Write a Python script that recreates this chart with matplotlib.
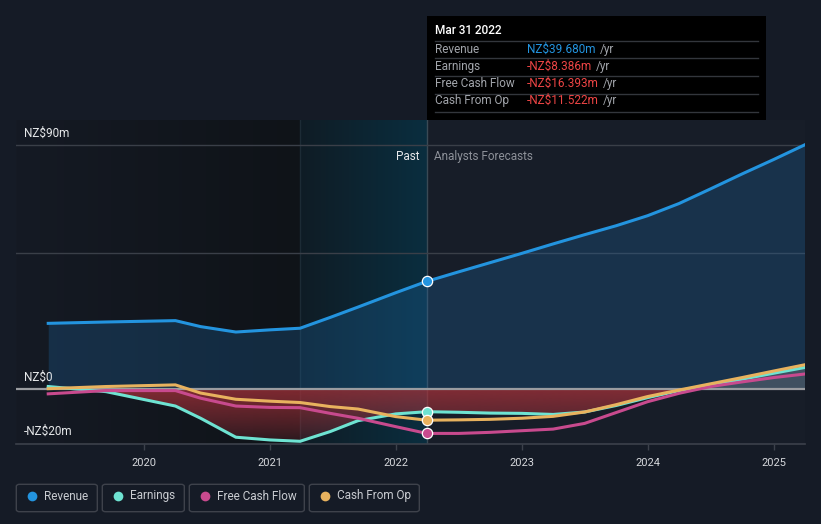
import numpy as np
import matplotlib.pyplot as plt
from matplotlib.patches import FancyBboxPatch
from matplotlib.colors import to_rgb

plt.rcParams['font.family'] = ['Roboto', 'DejaVu Sans']

# data (NZ$m), dates as decimal years
dates = [2019.24, 2019.70, 2020.25, 2020.45, 2020.73, 2021.0, 2021.24, 2021.48, 2021.70, 2022.0, 2022.246,
         2022.5, 2022.75, 2023.0, 2023.25, 2023.5, 2023.75, 2024.0, 2024.25, 2024.5, 2024.75, 2025.0, 2025.246]
revenue = [24.2, 24.7, 25.2, 23.0, 21.0, 21.8, 22.4, 26.4, 30.2, 35.5, 39.68,
           43.2, 46.6, 50.0, 53.5, 56.9, 60.2, 63.9, 68.4, 73.8, 79.3, 84.6, 90.0]
earnings = [0.9, -1.0, -6.3, -10.8, -17.8, -18.8, -19.3, -15.7, -11.7, -9.2, -8.386,
            -8.6, -8.9, -9.0, -9.4, -8.5, -6.1, -3.2, -0.6, 1.5, 3.6, 5.8, 7.9]
fcf = [-1.8, -0.6, -0.6, -3.4, -6.3, -6.8, -6.9, -9.0, -10.8, -13.9, -16.393,
       -16.4, -16.0, -15.4, -14.8, -12.7, -8.7, -4.7, -1.6, 0.9, 2.6, 4.2, 5.5]
cfo = [0.1, 0.9, 1.5, -1.5, -3.8, -4.5, -5.0, -6.5, -7.4, -10.2, -11.522,
       -11.4, -11.2, -10.8, -10.1, -8.5, -5.8, -2.8, -0.4, 1.9, 4.2, 6.6, 8.9]

years = [2020, 2021, 2022, 2023, 2024, 2025]
y_ticks = [90, 0, -20]
y_tick_labels = ['NZ$90m', 'NZ$0', '-NZ$20m']
names = ['Revenue', 'Earnings', 'Free Cash Flow', 'Cash From Op']
tip_date = 'Mar 31 2022'
tip_values = ['NZ$39.680m', '-NZ$8.386m', '-NZ$16.393m', '-NZ$11.522m']
now = 2022.246
past_start = 2021.24

colors = ['#2394df', '#6ee3d2', '#c84a8e', '#e8b25e']
bg = '#151b26'
W, H = 821, 524

fig = plt.figure(figsize=(W / 100, H / 100), dpi=100, facecolor=bg)
x0, x1 = 2018.984, 2025.25
y0, y1 = -20.3, 99.2
ax = fig.add_axes([16 / W, (H - 444) / H, (805 - 16) / W, (444 - 120) / H])
ax.set_facecolor('#171d28')
ax.set_xlim(x0, x1)
ax.set_ylim(y0, y1)


def hgrad(c_left, c_right, xa, xb, z, alpha=1.0):
    a = np.array(to_rgb(c_left))
    b = np.array(to_rgb(c_right))
    t = np.linspace(0, 1, 256)[None, :, None]
    img = a + (b - a) * t
    img = np.concatenate([img, np.full((1, 256, 1), alpha)], axis=2)
    return ax.imshow(img, extent=[xa, xb, y0, y1], aspect='auto', zorder=z, interpolation='bilinear')


# background zones
hgrad('#151a24', '#0f1318', x0, past_start, 0)
hgrad('#0f1c25', '#0a2e3f', past_start, now, 0)
ax.axvline(past_start, color='#1c2b35', lw=1, zorder=0.5)
ax.axvline(now, color='#3a4a55', lw=1, zorder=0.5)

# revenue area
ax.fill_between(dates, revenue, 0, color='#1e6aa8', alpha=0.28, lw=0, zorder=1)
# earnings area (red below 0, grey above)
e = np.array(earnings)
neg = ax.fill_between(dates, np.minimum(e, 0), 0, color='none', lw=0, zorder=1)
t = np.linspace(0, 1, 256)[:, None, None]
red_img = np.concatenate([np.broadcast_to(np.array(to_rgb('#a8323a')), (256, 1, 3)),
                          0.6 * (1 - t) ** 0.8 + 0.14], axis=2)
im = ax.imshow(red_img, extent=[x0, x1, -20, 0], aspect='auto', zorder=1, interpolation='bilinear')
im.set_clip_path(neg.get_paths()[0], transform=ax.transData)
ax.fill_between(dates, np.maximum(e, 0), 0, color='#8a8a8a', alpha=0.35, lw=0, zorder=1)

# grid
for g in [90, 50]:
    ax.axhline(g, color='#3a3f48', lw=1, zorder=0.8)
ax.axhline(0, color='#9a9ca0', lw=1.6, zorder=2)

for vals, c, z in [(revenue, colors[0], 5), (earnings, colors[1], 3), (fcf, colors[2], 4), (cfo, colors[3], 4.5)]:
    ax.plot(dates, vals, color=c, lw=2.2, zorder=z, solid_joinstyle='round')
    ax.scatter([now], [vals[dates.index(now)]], s=55, color=c, edgecolor='white', lw=0.9, zorder=6)

for s in ['top', 'right', 'left']:
    ax.spines[s].set_visible(False)
ax.spines['bottom'].set_color('#3c414b')
ax.spines['bottom'].set_linewidth(1.2)
ax.set_yticks([])
ax.set_xticks(years)
ax.set_xticklabels([str(y) for y in years])
ax.tick_params(axis='x', colors='#3c414b', labelcolor='#d6d8dc', length=4, width=1, pad=6, labelsize=8)

ax.text(now - 0.06, 85.6, 'Past', color='#e6e8ea', ha='right', va='center', fontsize=8.5)
ax.text(now + 0.06, 85.6, 'Analysts Forecasts', color='#8d9199', ha='left', va='center', fontsize=8.5)


def fx(px):
    return px / W


def fy(py):
    return 1 - py / H


for v, lab in zip(y_ticks, y_tick_labels):
    py = 389 - v * 2.711 - 12
    fig.text(fx(24), fy(py), lab, color='#e6e8ea', fontsize=8.5, va='center', ha='left')

# tooltip
fig.patches.append(plt.Rectangle((fx(427), fy(120)), (766 - 427) / W, (120 - 16) / H,
                                 transform=fig.transFigure, facecolor='#000000', edgecolor='none'))
fig.text(fx(435), fy(31), tip_date, color='white', fontsize=8.5, va='center', fontweight='medium')
for py in [41.3, 58.3, 76.3, 94, 111.7]:
    fig.add_artist(plt.Line2D([fx(435), fx(758)], [fy(py), fy(py)], color='#33363c', lw=1))
fig.canvas.draw()
renderer = fig.canvas.get_renderer()
row_y = [49.3, 66.3, 83.5, 100.8]
for i, (n, v) in enumerate(zip(names, tip_values)):
    fig.text(fx(435), fy(row_y[i]), n, color='#a2a5ab', fontsize=8.5, va='center')
    vc = colors[0] if i == 0 else '#ee4545'
    tv = fig.text(fx(527), fy(row_y[i]), v, color=vc, fontsize=8.5, va='center')
    bb = tv.get_window_extent(renderer)
    fig.text(fx(bb.x1 + 4), fy(row_y[i]), '/yr', color='#a2a5ab', fontsize=8.5, va='center')

# legend
boxes = [(16.3, 97.3), (102.3, 184.3), (189.3, 304.3), (309.3, 419.3)]
for (bx0, bx1), n, c in zip(boxes, names, colors):
    fig.patches.append(FancyBboxPatch((fx(bx0), fy(511.7)), (bx1 - bx0) / W, (511.7 - 484.3) / H,
                                      boxstyle='round,pad=0,rounding_size=0.004', transform=fig.transFigure,
                                      facecolor='none', edgecolor='#3e424b', lw=1))
    fig.add_artist(plt.Line2D([fx(bx0 + 15.5)], [fy(496)], marker='o', ms=7, color=c, mec='none'))
    fig.text(fx(bx0 + 28), fy(496), n, color='#c9ccd1', fontsize=8.5, va='center')

fig.savefig('out.png', dpi=100, facecolor=bg)
